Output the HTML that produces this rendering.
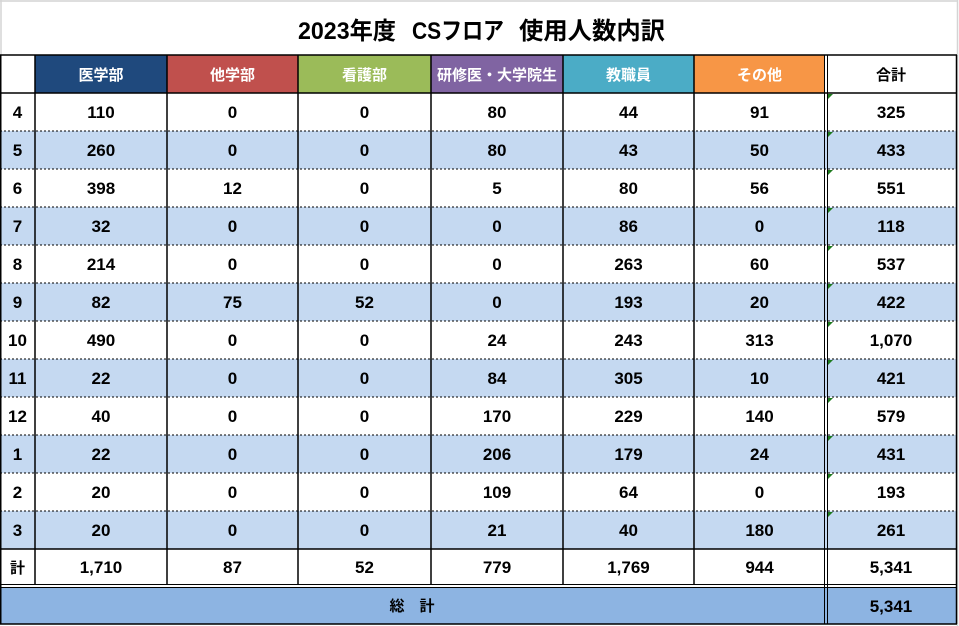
<!DOCTYPE html>
<html><head><meta charset="utf-8">
<style>
html,body{margin:0;padding:0;background:#fff;width:959px;height:626px;overflow:hidden}
svg{display:block}
.d{font-family:"Liberation Sans","Noto Sans CJK JP",sans-serif;font-weight:bold;font-size:17px;fill:#000;text-anchor:middle}
.h{font-family:"Liberation Sans","Noto Sans CJK JP",sans-serif;font-weight:bold;font-size:15px;fill:#fff;text-anchor:middle}
.k{font-family:"Liberation Sans","Noto Sans CJK JP",sans-serif;font-weight:bold;font-size:15px;fill:#000;text-anchor:middle}
.t{font-family:"Liberation Sans","Noto Sans CJK JP",sans-serif;font-weight:bold;font-size:24px;fill:#000}
</style></head><body>
<svg width="959" height="626" viewBox="0 0 959 626" xmlns="http://www.w3.org/2000/svg">
<rect x="0" y="0" width="959" height="626" fill="#fff"/>
<!-- outer light frame -->
<line x1="0" y1="1" x2="958" y2="1" stroke="#d4d4d4" stroke-width="1.5"/>
<line x1="1" y1="0" x2="1" y2="55" stroke="#d4d4d4" stroke-width="1.5"/>
<line x1="957.5" y1="0" x2="957.5" y2="626" stroke="#d4d4d4" stroke-width="1.5"/>

<!-- title -->
<text class="t" x="298" y="39" textLength="98" lengthAdjust="spacingAndGlyphs">2023年度</text>
<text class="t" x="412" y="39" textLength="92" lengthAdjust="spacingAndGlyphs">CSフロア</text>
<text class="t" x="519" y="39" textLength="146" lengthAdjust="spacingAndGlyphs">使用人数内訳</text>

<!-- header fills -->
<rect x="35" y="55" width="132" height="38" fill="#1F497D"/>
<rect x="167" y="55" width="131" height="38" fill="#C0504D"/>
<rect x="298" y="55" width="133" height="38" fill="#9BBB59"/>
<rect x="431" y="55" width="132" height="38" fill="#8064A2"/>
<rect x="563" y="55" width="131" height="38" fill="#4BACC6"/>
<rect x="694" y="55" width="131" height="38" fill="#F79646"/>

<!-- alternating row fills -->
<rect x="0" y="131" width="957" height="38" fill="#C5D9F1"/>
<rect x="0" y="207" width="957" height="38" fill="#C5D9F1"/>
<rect x="0" y="283" width="957" height="38" fill="#C5D9F1"/>
<rect x="0" y="359" width="957" height="38" fill="#C5D9F1"/>
<rect x="0" y="435" width="957" height="38" fill="#C5D9F1"/>
<rect x="0" y="511" width="957" height="38" fill="#C5D9F1"/>

<!-- total row fill -->
<rect x="0" y="588" width="957" height="36" fill="#8DB4E2"/>

<!-- horizontal lines -->
<g stroke="#000" stroke-width="1.5">
<line x1="0" y1="55" x2="957" y2="55"/>
<line x1="0" y1="93" x2="957" y2="93"/>
<line x1="0" y1="549" x2="957" y2="549"/>
<line x1="0" y1="624" x2="957" y2="624"/>
</g>
<g stroke="#000" stroke-width="1">
<line x1="0" y1="584.5" x2="957" y2="584.5"/>
<line x1="0" y1="587.5" x2="957" y2="587.5"/>
</g>
<g stroke="#000" stroke-width="1" stroke-dasharray="2,2">
<line x1="0" y1="131" x2="957" y2="131"/>
<line x1="0" y1="169" x2="957" y2="169"/>
<line x1="0" y1="207" x2="957" y2="207"/>
<line x1="0" y1="245" x2="957" y2="245"/>
<line x1="0" y1="283" x2="957" y2="283"/>
<line x1="0" y1="321" x2="957" y2="321"/>
<line x1="0" y1="359" x2="957" y2="359"/>
<line x1="0" y1="397" x2="957" y2="397"/>
<line x1="0" y1="435" x2="957" y2="435"/>
<line x1="0" y1="473" x2="957" y2="473"/>
<line x1="0" y1="511" x2="957" y2="511"/>
</g>

<!-- vertical lines -->
<g stroke="#000" stroke-width="1.5">
<line x1="0.75" y1="55" x2="0.75" y2="624"/>
<line x1="35" y1="55" x2="35" y2="585"/>
<line x1="167" y1="55" x2="167" y2="585"/>
<line x1="298" y1="55" x2="298" y2="585"/>
<line x1="431" y1="55" x2="431" y2="585"/>
<line x1="563" y1="55" x2="563" y2="585"/>
<line x1="694" y1="55" x2="694" y2="585"/>
<line x1="956.5" y1="55" x2="956.5" y2="624"/>
</g>
<g stroke="#000" stroke-width="1">
<line x1="824.5" y1="55" x2="824.5" y2="624"/>
<line x1="827.5" y1="55" x2="827.5" y2="624"/>
</g>

<!-- green indicators -->
<g fill="#1E7B1E">
<polygon points="828,94 833,94 828,99"/>
<polygon points="828,132 833,132 828,137"/>
<polygon points="828,170 833,170 828,175"/>
<polygon points="828,208 833,208 828,213"/>
<polygon points="828,246 833,246 828,251"/>
<polygon points="828,284 833,284 828,289"/>
<polygon points="828,322 833,322 828,327"/>
<polygon points="828,360 833,360 828,365"/>
<polygon points="828,398 833,398 828,403"/>
<polygon points="828,436 833,436 828,441"/>
<polygon points="828,474 833,474 828,479"/>
<polygon points="828,512 833,512 828,517"/>
</g>

<!-- header text -->
<text class="h" x="101" y="80">医学部</text>
<text class="h" x="232.5" y="80">他学部</text>
<text class="h" x="364.5" y="80">看護部</text>
<text class="h" x="497" y="80">研修医・大学院生</text>
<text class="h" x="628.5" y="80">教職員</text>
<text class="h" x="759.5" y="80">その他</text>
<text class="k" x="891" y="80">合計</text>

<!-- data rows -->
<g class="d">
<text class="d" x="17.5" y="118">4</text><text class="d" x="101" y="118">110</text><text class="d" x="232.5" y="118">0</text><text class="d" x="364.5" y="118">0</text><text class="d" x="497" y="118">80</text><text class="d" x="628.5" y="118">44</text><text class="d" x="759.5" y="118">91</text><text class="d" x="891" y="118">325</text>
<text class="d" x="17.5" y="156">5</text><text class="d" x="101" y="156">260</text><text class="d" x="232.5" y="156">0</text><text class="d" x="364.5" y="156">0</text><text class="d" x="497" y="156">80</text><text class="d" x="628.5" y="156">43</text><text class="d" x="759.5" y="156">50</text><text class="d" x="891" y="156">433</text>
<text class="d" x="17.5" y="194">6</text><text class="d" x="101" y="194">398</text><text class="d" x="232.5" y="194">12</text><text class="d" x="364.5" y="194">0</text><text class="d" x="497" y="194">5</text><text class="d" x="628.5" y="194">80</text><text class="d" x="759.5" y="194">56</text><text class="d" x="891" y="194">551</text>
<text class="d" x="17.5" y="232">7</text><text class="d" x="101" y="232">32</text><text class="d" x="232.5" y="232">0</text><text class="d" x="364.5" y="232">0</text><text class="d" x="497" y="232">0</text><text class="d" x="628.5" y="232">86</text><text class="d" x="759.5" y="232">0</text><text class="d" x="891" y="232">118</text>
<text class="d" x="17.5" y="270">8</text><text class="d" x="101" y="270">214</text><text class="d" x="232.5" y="270">0</text><text class="d" x="364.5" y="270">0</text><text class="d" x="497" y="270">0</text><text class="d" x="628.5" y="270">263</text><text class="d" x="759.5" y="270">60</text><text class="d" x="891" y="270">537</text>
<text class="d" x="17.5" y="308">9</text><text class="d" x="101" y="308">82</text><text class="d" x="232.5" y="308">75</text><text class="d" x="364.5" y="308">52</text><text class="d" x="497" y="308">0</text><text class="d" x="628.5" y="308">193</text><text class="d" x="759.5" y="308">20</text><text class="d" x="891" y="308">422</text>
<text class="d" x="17.5" y="346">10</text><text class="d" x="101" y="346">490</text><text class="d" x="232.5" y="346">0</text><text class="d" x="364.5" y="346">0</text><text class="d" x="497" y="346">24</text><text class="d" x="628.5" y="346">243</text><text class="d" x="759.5" y="346">313</text><text class="d" x="891" y="346">1,070</text>
<text class="d" x="17.5" y="384">11</text><text class="d" x="101" y="384">22</text><text class="d" x="232.5" y="384">0</text><text class="d" x="364.5" y="384">0</text><text class="d" x="497" y="384">84</text><text class="d" x="628.5" y="384">305</text><text class="d" x="759.5" y="384">10</text><text class="d" x="891" y="384">421</text>
<text class="d" x="17.5" y="422">12</text><text class="d" x="101" y="422">40</text><text class="d" x="232.5" y="422">0</text><text class="d" x="364.5" y="422">0</text><text class="d" x="497" y="422">170</text><text class="d" x="628.5" y="422">229</text><text class="d" x="759.5" y="422">140</text><text class="d" x="891" y="422">579</text>
<text class="d" x="17.5" y="460">1</text><text class="d" x="101" y="460">22</text><text class="d" x="232.5" y="460">0</text><text class="d" x="364.5" y="460">0</text><text class="d" x="497" y="460">206</text><text class="d" x="628.5" y="460">179</text><text class="d" x="759.5" y="460">24</text><text class="d" x="891" y="460">431</text>
<text class="d" x="17.5" y="498">2</text><text class="d" x="101" y="498">20</text><text class="d" x="232.5" y="498">0</text><text class="d" x="364.5" y="498">0</text><text class="d" x="497" y="498">109</text><text class="d" x="628.5" y="498">64</text><text class="d" x="759.5" y="498">0</text><text class="d" x="891" y="498">193</text>
<text class="d" x="17.5" y="536">3</text><text class="d" x="101" y="536">20</text><text class="d" x="232.5" y="536">0</text><text class="d" x="364.5" y="536">0</text><text class="d" x="497" y="536">21</text><text class="d" x="628.5" y="536">40</text><text class="d" x="759.5" y="536">180</text><text class="d" x="891" y="536">261</text>
</g>

<!-- sum row -->
<text class="k" x="17.5" y="573">計</text>
<text class="d" x="101" y="573">1,710</text><text class="d" x="232.5" y="573">87</text><text class="d" x="364.5" y="573">52</text><text class="d" x="497" y="573">779</text><text class="d" x="628.5" y="573">1,769</text><text class="d" x="759.5" y="573">944</text><text class="d" x="891" y="573">5,341</text>

<!-- grand total row -->
<text class="k" x="412" y="611">総　計</text>
<text class="d" x="891" y="612">5,341</text>
</svg>
</body></html>
